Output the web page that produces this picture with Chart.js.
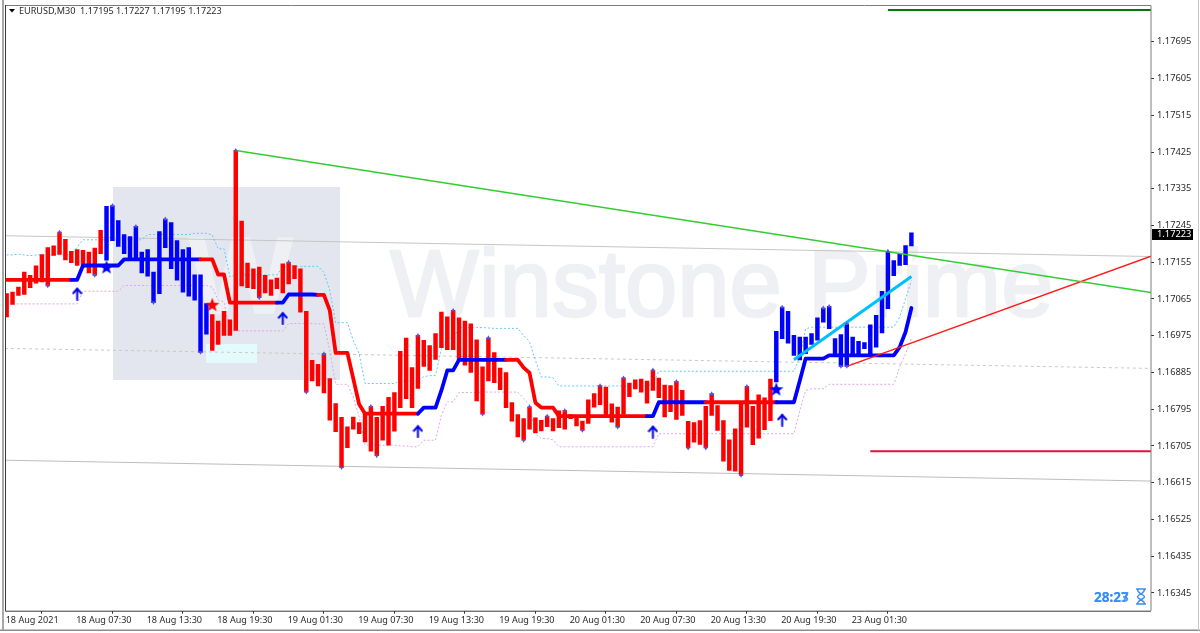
<!DOCTYPE html>
<html>
<head>
<meta charset="utf-8">
<style>html,body{margin:0;padding:0;background:#fff;overflow:hidden}#wrap{width:1200px;height:633px;position:relative}</style>
<script src="https://cdn.jsdelivr.net/npm/chart.js@4"></script>
</head>
<body>
<div id="wrap"><canvas id="c" width="1200" height="633"></canvas></div>
<script>
const chartTitle = "EURUSD,M30  1.17195 1.17227 1.17195 1.17223";
const timerTexts = ["28:23", "28:27"];
const lastPrice = 1.17223;
const xTickLabels = ["18 Aug 2021","18 Aug 07:30","18 Aug 13:30","18 Aug 19:30","19 Aug 01:30","19 Aug 07:30","19 Aug 13:30","19 Aug 19:30","20 Aug 01:30","20 Aug 07:30","20 Aug 13:30","20 Aug 19:30","23 Aug 01:30"];
const yTickLabels = ["1.17695","1.17605","1.17515","1.17425","1.17335","1.17245","1.17155","1.17065","1.16975","1.16885","1.16795","1.16705","1.16615","1.16525","1.16435","1.16345"];

const highs = [1.17078,1.17082,1.17094,1.17131,1.17123,1.17146,1.17174,1.17191,1.17195,1.17229,
1.17211,1.17182,1.17186,1.17184,1.17180,1.17190,1.17233,1.17292,1.17294,1.17257,
1.17223,1.17218,1.17243,1.17180,1.17186,1.17131,1.17230,1.17261,1.17252,1.17208,
1.17186,1.17191,1.17124,1.17124,1.17054,1.17027,1.17011,1.17035,1.17014,1.17429,
1.17256,1.17153,1.17139,1.17143,1.17123,1.17112,1.17116,1.17151,1.17155,1.17147,
1.17139,1.17035,1.16915,1.16905,1.16931,1.16870,1.16809,1.16775,1.16752,1.16776,
1.16762,1.16784,1.16802,1.16775,1.16802,1.16824,1.16836,1.16937,1.16969,1.16897,
1.16976,1.16964,1.16951,1.16980,1.17033,1.17021,1.17037,1.17019,1.17011,1.17004,
1.16965,1.16899,1.16970,1.16934,1.16896,1.16885,1.16811,1.16782,1.16772,1.16801,
1.16774,1.16768,1.16778,1.16772,1.16791,1.16792,1.16782,1.16778,1.16766,1.16818,
1.16833,1.16853,1.16849,1.16808,1.16800,1.16872,1.16859,1.16867,1.16869,1.16864,
1.16891,1.16871,1.16854,1.16853,1.16863,1.16841,1.16765,1.16762,1.16767,1.16802,
1.16833,1.16804,1.16767,1.16720,1.16747,1.16808,1.16851,1.16802,1.16830,1.16823,
1.16869,1.16986,1.17045,1.17035,1.16976,1.16972,1.16972,1.16980,1.17019,1.17043,
1.17047,1.16968,1.16978,1.17004,1.16972,1.16961,1.16958,1.17002,1.17025,1.17084,
1.17182,1.17159,1.17175,1.17196,1.17227];

const lows = [1.17021,1.17052,1.17074,1.17076,1.17093,1.17104,1.17107,1.17097,1.17172,1.17174,
1.17161,1.17154,1.17147,1.17143,1.17129,1.17123,1.17176,1.17160,1.17208,1.17194,
1.17176,1.17164,1.17162,1.17129,1.17121,1.17056,1.17078,1.17191,1.17139,1.17111,
1.17082,1.17072,1.17062,1.16934,1.16979,1.16939,1.16954,1.16976,1.16976,1.16988,
1.17097,1.17093,1.17090,1.17068,1.17080,1.17074,1.17090,1.17080,1.17102,1.17115,
1.17033,1.16837,1.16864,1.16852,1.16835,1.16768,1.16740,1.16652,1.16701,1.16746,
1.16735,1.16715,1.16692,1.16681,1.16719,1.16707,1.16741,1.16799,1.16821,1.16799,
1.16846,1.16900,1.16890,1.16917,1.16946,1.16941,1.16941,1.16915,1.16903,1.16885,
1.16815,1.16783,1.16864,1.16860,1.16843,1.16799,1.16766,1.16727,1.16719,1.16746,
1.16737,1.16742,1.16752,1.16742,1.16750,1.16746,1.16772,1.16754,1.16743,1.16760,
1.16800,1.16806,1.16774,1.16763,1.16751,1.16782,1.16826,1.16845,1.16837,1.16810,
1.16841,1.16823,1.16776,1.16789,1.16770,1.16780,1.16700,1.16714,1.16709,1.16700,
1.16780,1.16743,1.16668,1.16645,1.16643,1.16633,1.16751,1.16708,1.16724,1.16745,
1.16767,1.16862,1.16968,1.16957,1.16927,1.16916,1.16931,1.16954,1.16964,1.17008,
1.16992,1.16927,1.16900,1.16900,1.16927,1.16927,1.16943,1.16927,1.16947,1.16982,
1.17041,1.17122,1.17147,1.17149,1.17195];

const blueBarRanges = [[17,34],[131,154]];

const stopLine = [1.17112,1.17112,1.17112,1.17112,1.17112,1.17112,1.17112,1.17112,1.17112,1.17112,
1.17112,1.17112,1.17112,1.17147,1.17147,1.17147,1.17147,1.17147,1.17147,1.17147,
1.17162,1.17162,1.17162,1.17162,1.17162,1.17162,1.17162,1.17162,1.17162,1.17162,
1.17162,1.17162,1.17162,1.17162,1.17162,1.17162,1.17125,1.17125,1.17056,1.17056,
1.17056,1.17056,1.17056,1.17056,1.17056,1.17056,1.17056,1.17056,1.17076,1.17076,
1.17076,1.17076,1.17076,1.17075,1.17075,1.17037,1.16933,1.16933,1.16933,1.16870,
1.16807,1.16784,1.16784,1.16784,1.16784,1.16784,1.16784,1.16784,1.16784,1.16784,
1.16784,1.16799,1.16799,1.16799,1.16841,1.16890,1.16890,1.16916,1.16916,1.16916,
1.16916,1.16916,1.16916,1.16916,1.16916,1.16916,1.16916,1.16916,1.16897,1.16884,
1.16811,1.16799,1.16799,1.16799,1.16778,1.16778,1.16778,1.16778,1.16778,1.16778,
1.16778,1.16778,1.16778,1.16778,1.16778,1.16778,1.16778,1.16778,1.16778,1.16778,
1.16778,1.16812,1.16812,1.16812,1.16812,1.16812,1.16812,1.16812,1.16812,1.16812,
1.16812,1.16812,1.16812,1.16812,1.16812,1.16812,1.16812,1.16812,1.16812,1.16812,
1.16812,1.16812,1.16812,1.16812,1.16812,1.16865,1.16919,1.16919,1.16919,1.16919,
1.16927,1.16927,1.16927,1.16927,1.16927,1.16927,1.16927,1.16927,1.16927,1.16927,
1.16927,1.16927,1.16947,1.16984,1.17043];
const stopBlueRanges = [[12,33],[47,53],[71,85],[110,119],[132,154]];

const upperBand = [1.17173,1.17173,1.17175,1.17173,1.17171,1.17173,1.17173,1.17173,1.17173,1.17173,
1.17173,1.17173,1.17192,1.17210,1.17210,1.17210,1.17210,1.17210,1.17210,1.17210,
1.17210,1.17210,1.17210,1.17210,1.17223,1.17223,1.17223,1.17223,1.17223,1.17223,
1.17223,1.17223,1.17226,1.17226,1.17226,1.17222,1.17188,1.17188,1.17119,1.17124,
1.17124,1.17124,1.17124,1.17124,1.17124,1.17124,1.17124,1.17143,1.17145,1.17145,
1.17145,1.17145,1.17145,1.17145,1.17130,1.17086,1.17007,1.17007,1.17007,1.16963,
1.16931,1.16858,1.16858,1.16858,1.16858,1.16858,1.16858,1.16864,1.16864,1.16864,
1.16864,1.16875,1.16877,1.16878,1.16943,1.16968,1.16968,1.16995,1.16995,1.16995,
1.16995,1.16995,1.16994,1.16993,1.16993,1.16993,1.16993,1.16993,1.16976,1.16960,
1.16915,1.16874,1.16874,1.16872,1.16852,1.16852,1.16852,1.16852,1.16852,1.16852,
1.16852,1.16852,1.16852,1.16852,1.16852,1.16852,1.16852,1.16852,1.16852,1.16852,
1.16857,1.16888,1.16888,1.16888,1.16888,1.16888,1.16888,1.16888,1.16888,1.16888,
1.16888,1.16888,1.16888,1.16888,1.16888,1.16888,1.16888,1.16888,1.16888,1.16888,
1.16888,1.16888,1.16888,1.16888,1.16888,1.16923,1.16992,1.16996,1.16996,1.16996,
1.16996,1.16996,1.16996,1.16996,1.16996,1.16996,1.16996,1.16996,1.16996,1.16996,
1.16996,1.16996,1.17021,1.17065,1.17110];

const lowerBand = [null,1.17053,1.17053,1.17053,1.17053,1.17053,1.17053,1.17053,1.17053,1.17053,
1.17053,1.17053,1.17053,1.17084,1.17084,1.17084,1.17084,1.17084,1.17084,1.17084,
1.17098,1.17098,1.17098,1.17098,1.17098,1.17098,1.17098,1.17098,1.17098,1.17098,
1.17098,1.17098,1.17098,1.17098,1.17098,1.17094,1.17062,1.17058,1.16988,1.16987,
1.16987,1.16987,1.16987,1.16987,1.16987,1.16987,1.16987,1.16987,1.17005,1.17005,
1.17005,1.17005,1.17005,1.17004,1.17004,1.16939,1.16856,1.16856,1.16856,1.16825,
1.16776,1.16707,1.16707,1.16707,1.16707,1.16707,1.16707,1.16705,1.16705,1.16703,
1.16703,1.16719,1.16719,1.16719,1.16780,1.16813,1.16813,1.16836,1.16836,1.16836,
1.16836,1.16837,1.16837,1.16837,1.16837,1.16837,1.16837,1.16837,1.16821,1.16805,
1.16735,1.16723,1.16723,1.16720,1.16703,1.16703,1.16703,1.16703,1.16703,1.16703,
1.16703,1.16703,1.16703,1.16703,1.16703,1.16703,1.16703,1.16703,1.16703,1.16703,
1.16703,1.16735,1.16735,1.16735,1.16735,1.16735,1.16735,1.16735,1.16735,1.16735,
1.16735,1.16735,1.16735,1.16735,1.16735,1.16735,1.16735,1.16735,1.16735,1.16735,
1.16735,1.16735,1.16735,1.16735,1.16735,1.16792,1.16841,1.16845,1.16845,1.16845,
1.16856,1.16856,1.16856,1.16856,1.16856,1.16856,1.16856,1.16856,1.16856,1.16856,
1.16856,1.16856,1.16898,1.16931,1.16968];

const greenTrend = [[39,1.17429],[194.78,1.17081]];
const redTrend = [[143,1.16900],[194.78,1.17170]];
const channelTop = [[-0.28,1.17220],[194.78,1.17169]];
const channelBottom = [[-0.28,1.16670],[194.78,1.16619]];
const channelMid = [[-0.28,1.16944],[194.78,1.16895]];
const darkGreenLevel = [[150,1.17773],[194.78,1.17773]];
const crimsonLevel = [[147,1.16692],[194.78,1.16692]];
const skyTrend = [[134,1.16916],[154,1.17120]];

const fractalHighIdx = [9,18,22,27,39,48,54,62,70,76,82,89,92,95,101,105,110,114,120,126,132,139,140,143,150];
const fractalLowIdx = [7,15,25,33,43,51,57,63,81,88,98,104,116,119,125,142,143];

const upArrows = [[12,1.17078],[47,1.17018],[70,1.16741],[110,1.16740],[132,1.16769]];
const blueStars = [[17,1.17143],[131,1.16844]];
const redStars = [[35,1.17051]];

function inRanges(i, ranges){ return ranges.some(r => i >= r[0] && i <= r[1]); }
function pts(a){ return a.map(p => ({x:p[0], y:p[1]})); }
function indexed(a){ return a.map((v,i) => ({x:i, y:v})); }

function markerCanvas(w, h, draw){
  const c = document.createElement('canvas');
  c.width = w; c.height = h;
  draw(c.getContext('2d'));
  return c;
}
function starPath(ctx, cx, cy, R, r){
  ctx.beginPath();
  for (let k = 0; k < 10; k++){
    const a = -Math.PI/2 + k*Math.PI/5, q = k%2 ? r : R;
    ctx[k ? 'lineTo' : 'moveTo'](cx + q*Math.cos(a), cy + q*Math.sin(a));
  }
  ctx.closePath();
}
const arrowImg = markerCanvas(11, 14, ctx => {
  ctx.strokeStyle = '#0000e6'; ctx.lineWidth = 2; ctx.lineCap='round';
  ctx.beginPath(); ctx.moveTo(5.5,2); ctx.lineTo(5.5,13); ctx.stroke();
  ctx.beginPath(); ctx.moveTo(1.5,6.5); ctx.lineTo(5.5,2); ctx.lineTo(9.5,6.5); ctx.stroke();
});
const blueStarImg = markerCanvas(16, 16, ctx => { ctx.fillStyle = '#0000ff'; starPath(ctx,8,8.5,7.5,3.1); ctx.fill(); });
const redStarImg = markerCanvas(16, 16, ctx => { ctx.fillStyle = '#ff0000'; starPath(ctx,8,8.5,7.5,3.1); ctx.fill(); });

const lineDefaults = {type:'line', pointRadius:0, tension:0, fill:false, parsing:{xAxisKey:'x',yAxisKey:'y'}};
const solid = (data, color, width, order, dash) => Object.assign({}, lineDefaults, {data:pts(data), borderColor:color, borderWidth:width, order, borderDash:dash||[]});

const decor = {
  id:'decor',
  beforeDatasetsDraw(ch){
    const ctx = ch.ctx;
    ctx.save();
    ctx.fillStyle = '#e4e6ef'; ctx.fillRect(113,187,227,193);
    ctx.fillStyle = '#e4fbfd'; ctx.fillRect(206,344,51,19);
    ctx.fillStyle = '#eef0f4';
    ctx.font = 'bold 112px "Liberation Sans"'; ctx.textBaseline='alphabetic'; ctx.textAlign='left';
    ctx.fillText('W', 188, 314);
    ctx.fillStyle = '#eff0f3'; ctx.strokeStyle = '#eff0f3'; ctx.lineWidth = 2.5; ctx.lineJoin='round';
    ctx.font = '94px "Liberation Sans"';
    ctx.fillText('Winstone Prime', 390, 316);
    ctx.strokeText('Winstone Prime', 390, 316);
    ctx.restore();
  },
  afterDraw(ch){
    const ctx = ch.ctx, a = ch.chartArea, y = ch.scales.y;
    ctx.save();
    // chart frame
    ctx.strokeStyle = '#7d7d7d'; ctx.lineWidth = 1;
    ctx.beginPath(); ctx.moveTo(a.left,a.top+.5); ctx.lineTo(a.right,a.top+.5); ctx.lineTo(a.right,a.bottom); ctx.stroke();
    ctx.strokeStyle = '#3a3a3a';
    ctx.beginPath(); ctx.moveTo(a.left+.5,a.top); ctx.lineTo(a.left+.5,a.bottom+.5); ctx.lineTo(a.right,a.bottom+.5); ctx.stroke();
    // window edges
    ctx.fillStyle = '#a8a8a8'; ctx.fillRect(2,0,2,631);
    ctx.fillStyle = '#8c8c8c'; ctx.fillRect(0,629.5,1200,1.5);
    ctx.fillStyle = '#c8c8c8'; ctx.fillRect(1198,0,1,631);
    // header
    ctx.fillStyle = '#000';
    ctx.beginPath(); ctx.moveTo(9,9); ctx.lineTo(15,9); ctx.lineTo(12,12.5); ctx.closePath(); ctx.fill();
    ctx.fillStyle = '#2a2a2a'; ctx.font = '9.1px "Noto Sans"'; ctx.textBaseline='middle'; ctx.textAlign='left';
    ctx.fillText(chartTitle, 19, 11);
    // price box
    const py = y.getPixelForValue(lastPrice);
    ctx.fillStyle = '#000'; ctx.fillRect(1152,py-5.5,41,11);
    ctx.fillStyle = '#fff'; ctx.font = '9.3px "Noto Sans"';
    ctx.fillText(String(lastPrice.toFixed(5)), 1157, py);
    // timer
    ctx.font = 'bold 13.5px "Noto Sans"'; ctx.fillStyle = 'rgba(50,140,245,0.85)'; ctx.textAlign='left';
    timerTexts.forEach(t => ctx.fillText(t, 1094, 598));
    ctx.strokeStyle = '#3a8ef2'; ctx.lineWidth = 1.5;
    ctx.beginPath(); ctx.moveTo(1136,589); ctx.lineTo(1146,589); ctx.moveTo(1136,604); ctx.lineTo(1146,604);
    ctx.moveTo(1137.5,589); ctx.bezierCurveTo(1137.5,594,1144.5,594.5,1144.5,597); ctx.bezierCurveTo(1144.5,599,1137.5,600,1137.5,604);
    ctx.moveTo(1144.5,589); ctx.bezierCurveTo(1144.5,594,1137.5,594.5,1137.5,597); ctx.bezierCurveTo(1137.5,599,1144.5,600,1144.5,604);
    ctx.stroke();
    ctx.restore();
  }
};

new Chart(document.getElementById('c'), {
  type:'bar',
  plugins:[decor],
  data:{datasets:[
    {type:'bar', data:highs.map((h,i)=>({x:i,y:[lows[i],h]})),
     backgroundColor:highs.map((h,i)=>inRanges(i,blueBarRanges)?'#0000ff':'#ff0000'),
     barThickness:3.8, order:10},
    Object.assign({}, lineDefaults, {data:indexed(upperBand), borderColor:'#62c9f2', borderWidth:1, borderDash:[2,2], order:12}),
    Object.assign({}, lineDefaults, {data:indexed(lowerBand), borderColor:'#dfa6e2', borderWidth:1, borderDash:[2,2], order:12}),
    solid(channelTop,'#c6c6c6',1,13),
    solid(channelBottom,'#bdbdbd',1,13),
    solid(channelMid,'#c9c9c9',1,13,[3,3]),
    Object.assign({}, lineDefaults, {data:indexed(stopLine), borderWidth:3.8, borderJoinStyle:'round', borderCapStyle:'round', order:5,
      borderColor:'#ff0000',
      segment:{borderColor:c=>inRanges(c.p1DataIndex,stopBlueRanges)?'#0000ff':'#ff0000'}}),
    solid(greenTrend,'#32cd32',1.5,3),
    solid(redTrend,'#ff1a1a',1.5,3),
    solid(darkGreenLevel,'#007a00',2,3),
    solid(crimsonLevel,'#dc143c',2,3),
    solid(skyTrend,'#00bfff',3,4),
    {type:'scatter', data:fractalHighIdx.map(i=>({x:i,y:highs[i]})), pointStyle:'triangle', radius:2.4, backgroundColor:'#5a4fe0', borderWidth:0, order:2, showLine:false},
    {type:'scatter', data:fractalLowIdx.map(i=>({x:i,y:lows[i]})), pointStyle:'triangle', rotation:180, radius:2.4, backgroundColor:'#5a4fe0', borderWidth:0, order:2, showLine:false},
    {type:'scatter', data:pts(upArrows), pointStyle:arrowImg, order:1, showLine:false},
    {type:'scatter', data:pts(blueStars), pointStyle:blueStarImg, order:1, showLine:false},
    {type:'scatter', data:pts(redStars), pointStyle:redStarImg, order:1, showLine:false}
  ]},
  options:{
    responsive:false, animation:false, events:[],
    layout:{padding:{left:5,top:4,right:0,bottom:0}},
    plugins:{legend:{display:false},tooltip:{enabled:false}},
    scales:{
      x:{type:'linear', min:-0.28, max:194.78, offset:false,
        afterBuildTicks:s=>{s.ticks = xTickLabels.map((_,k)=>({value:k*12}));},
        afterFit:s=>{s.height = 633-610.7; s.paddingLeft = 0; s.paddingRight = 0;},
        grid:{drawOnChartArea:false, tickLength:3, tickColor:'#333'},
        border:{display:false},
        ticks:{autoSkip:false, maxRotation:0, align:'start', padding:1, labelOffset:-1, color:'#2a2a2a', font:{family:'"Noto Sans"', size:9.1},
          callback:v=>xTickLabels[Math.round(v/12)]}
      },
      y:{type:'linear', position:'right', min:1.163014, max:1.177852,
        afterBuildTicks:s=>{s.ticks = yTickLabels.map(t=>({value:parseFloat(t)}));},
        afterFit:s=>{s.width = 49; s.paddingTop = 0; s.paddingBottom = 0;},
        grid:{drawOnChartArea:false, tickLength:3, tickColor:'#333'},
        border:{display:false},
        ticks:{autoSkip:false, padding:3, color:'#2a2a2a', font:{family:'"Noto Sans"', size:9.3},
          callback:v=>v.toFixed(5)}
      }
    }
  }
});
</script>
</body>
</html>
